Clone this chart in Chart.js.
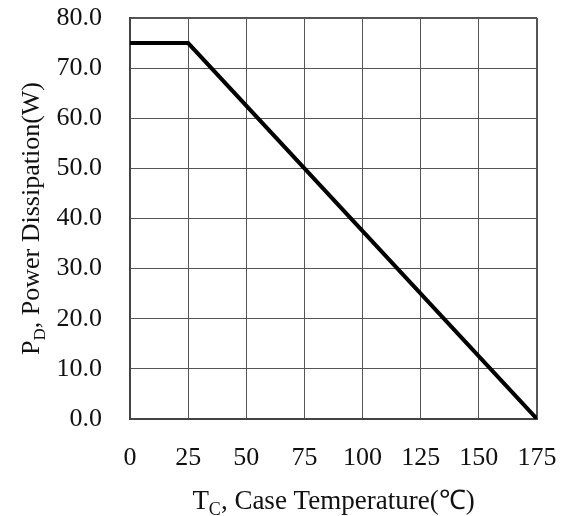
<!DOCTYPE html>
<html>
<head>
<meta charset="utf-8">
<script src="https://cdn.jsdelivr.net/npm/chart.js@4"></script>
<style>
  html, body { margin: 0; padding: 0; background: #fff; }
  #wrap { width: 570px; height: 516px; }
</style>
</head>
<body>
<div id="wrap"><canvas id="chart" width="570" height="516"></canvas></div>
<script>
// derating curve: case temperature (°C) vs power dissipation (W)
const caseTemps = [0, 25, 175];
const powerDissipation = [75, 75, 0];
const xTicks = [0, 25, 50, 75, 100, 125, 150, 175];
const yTicks = [0, 10, 20, 30, 40, 50, 60, 70, 80];

const FONT = '"Liberation Serif", "Times New Roman", serif';

// axis titles with subscripts, drawn on the canvas
const axisTitles = {
  id: 'axisTitles',
  afterDraw(chart) {
    const ctx = chart.ctx;
    const area = chart.chartArea;
    const drawSub = (parts, cx, cy) => {
      let total = 0;
      parts.forEach(p => {
        ctx.font = p.size + 'px ' + FONT;
        total += ctx.measureText(p.text).width;
      });
      let x = cx - total / 2;
      parts.forEach(p => {
        ctx.font = p.size + 'px ' + FONT;
        ctx.fillText(p.text, x, cy + (p.dy || 0));
        x += ctx.measureText(p.text).width;
      });
    };
    ctx.save();
    ctx.fillStyle = '#111';
    ctx.textBaseline = 'alphabetic';
    ctx.textAlign = 'left';
    drawSub([
      { text: 'T', size: 27 },
      { text: 'C', size: 18, dy: 6 },
      { text: ', Case Temperature(\u2103)', size: 27 }
    ], (area.left + area.right) / 2, 509);

    ctx.translate(39, (area.top + area.bottom) / 2);
    ctx.rotate(-Math.PI / 2);
    drawSub([
      { text: 'P', size: 26 },
      { text: 'D', size: 17, dy: 6 },
      { text: ', Power Dissipation(W)', size: 26 }
    ], 0, 0);
    ctx.restore();
  }
};

new Chart(document.getElementById('chart'), {
  type: 'scatter',
  data: {
    datasets: [{
      data: caseTemps.map((t, i) => ({ x: t, y: powerDissipation[i] })),
      showLine: true,
      borderColor: '#000',
      borderWidth: 4,
      pointRadius: 0,
      tension: 0
    }]
  },
  options: {
    responsive: false,
    animation: false,
    layout: { padding: { top: 18, right: 33, left: 0, bottom: 0 } },
    plugins: { legend: { display: false }, tooltip: { enabled: false } },
    scales: {
      x: {
        type: 'linear',
        min: 0,
        max: 175,
        afterBuildTicks: s => { s.ticks = xTicks.map(v => ({ value: v })); },
        afterFit: s => {
          s.height = 97;
          s.paddingLeft = 0;
          s.paddingRight = 0;
        },
        grid: {
          color: '#555',
          lineWidth: c => (c.tick && c.tick.value === 175 ? 2 : 1),
          drawTicks: false
        },
        border: { color: '#444', width: 2 },
        ticks: {
          color: '#111',
          padding: 24,
          maxRotation: 0,
          font: { family: FONT, size: 26 },
          callback: v => String(v)
        }
      },
      y: {
        min: 0,
        max: 80,
        afterBuildTicks: s => { s.ticks = yTicks.map(v => ({ value: v })); },
        afterFit: s => {
          s.width = 130;
          s.paddingTop = 0;
          s.paddingBottom = 0;
        },
        grid: {
          color: '#555',
          lineWidth: c => (c.tick && c.tick.value === 80 ? 2 : 1),
          drawTicks: false
        },
        border: { color: '#444', width: 2 },
        ticks: {
          color: '#111',
          padding: 28,
          font: { family: FONT, size: 26 },
          callback: v => v.toFixed(1)
        }
      }
    }
  },
  plugins: [axisTitles]
});
</script>
</body>
</html>
